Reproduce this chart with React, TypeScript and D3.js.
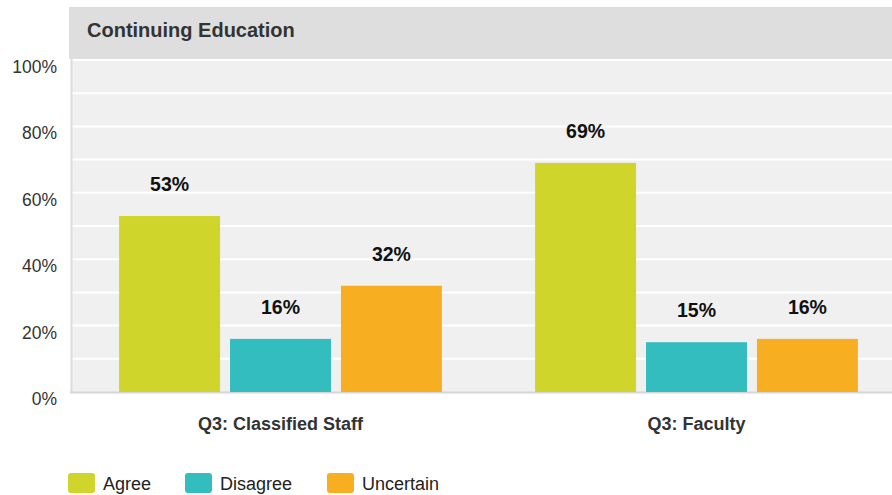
import React from "react";
import * as d3 from "d3";

const categories = ["Q3: Classified Staff", "Q3: Faculty"];
const seriesNames = ["Agree", "Disagree", "Uncertain"];
const agree = [53, 69];
const disagree = [16, 15];
const uncertain = [32, 16];
const yTicks = [0, 20, 40, 60, 80, 100];
const gridTicks = [10, 20, 30, 40, 50, 60, 70, 80, 90, 100];
const colors = ["#cfd52a", "#33bdbe", "#f7ae20"];

export default function App() {
  const W = 892, H = 495;
  const x0 = 72.5, plotW = 832;
  const yTop = 60, yBot = 392;
  const font = "'Liberation Sans', Arial, sans-serif";
  const series = [agree, disagree, uncertain];

  const y = d3.scaleLinear().domain([0, 100]).range([yBot, yTop]);
  const xg = d3.scaleBand().domain(categories).range([x0, x0 + plotW]).paddingInner(0).paddingOuter(0);
  const xb = d3.scaleBand().domain(seriesNames).range([0, xg.bandwidth()]).paddingInner(0.09).paddingOuter(0.42);

  return (
    <svg width={W} height={H} style={{ position: "absolute", left: 0, top: 0, fontFamily: font }}>
      <rect x={69} y={7} width={W - 69} height={52} fill="#dedede" />
      <text x={87} y={37} fontSize={20} fontWeight="bold" fill="#333">Continuing Education</text>
      <rect x={71} y={59} width={W - 71} height={yBot - 59} fill="#f0f0f0" />
      {gridTicks.map(t => (
        <line key={t} x1={72} x2={W} y1={y(t)} y2={y(t)} stroke="#ffffff" strokeWidth={2} />
      ))}
      <line x1={71.5} x2={71.5} y1={59} y2={yBot + 1} stroke="#dcdcdc" strokeWidth={2} />
      <line x1={70} x2={W} y1={yBot + 0.5} y2={yBot + 0.5} stroke="#d6d6d6" strokeWidth={2} />
      {yTicks.map(t => (
        <text key={t} x={57} y={y(t) + 13} fontSize={17.5} fill="#333" textAnchor="end">{t}%</text>
      ))}
      {categories.map((c, ci) => (
        <g key={c}>
          {seriesNames.map((s, si) => {
            const v = series[si][ci];
            const bx = (xg(c) as number) + (xb(s) as number);
            return (
              <g key={s}>
                <rect x={bx} y={y(v)} width={xb.bandwidth()} height={yBot - y(v)} fill={colors[si]} />
                <text x={bx + xb.bandwidth() / 2} y={y(v) - 25} fontSize={19.5} fontWeight="bold" fill="#111" textAnchor="middle">{v}%</text>
              </g>
            );
          })}
          <text x={(xg(c) as number) + xg.bandwidth() / 2} y={430} fontSize={18} fontWeight="bold" fill="#333" textAnchor="middle">{c}</text>
        </g>
      ))}
      {seriesNames.map((s, i) => {
        const lx = [68, 185, 327][i];
        return (
          <g key={s}>
            <rect x={lx} y={473} width={27} height={20} rx={3} fill={colors[i]} />
            <text x={lx + 35} y={490} fontSize={18} fill="#222">{s}</text>
          </g>
        );
      })}
    </svg>
  );
}
